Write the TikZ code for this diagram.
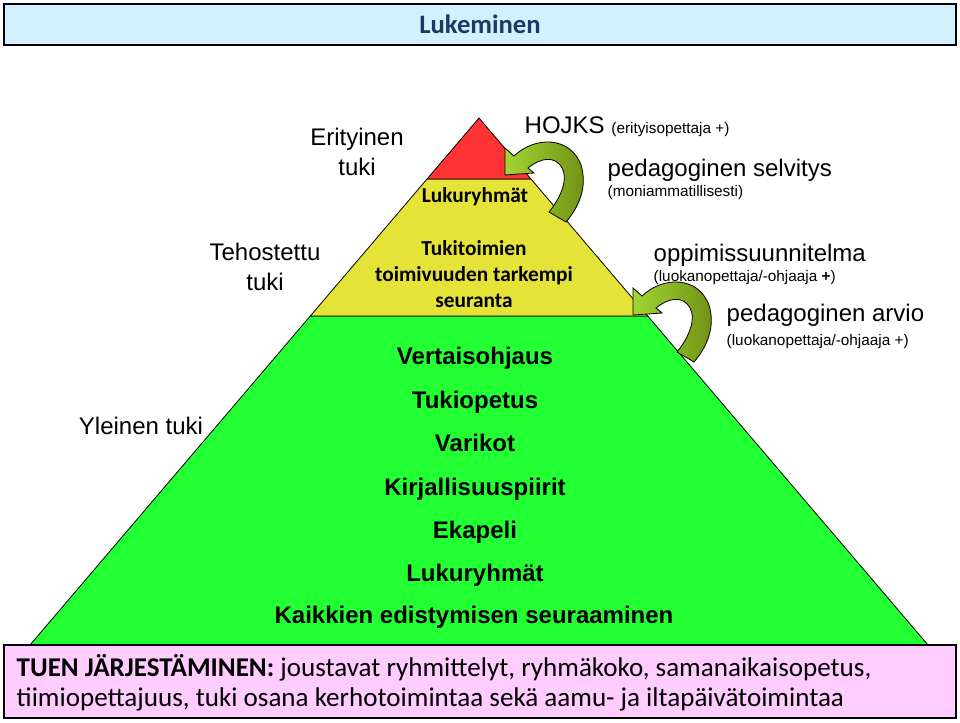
\documentclass[tikz,border=0pt]{standalone}
\usepackage{fontspec}
\setmainfont{Liberation Sans}
\newfontfamily\calibri{Carlito}
\usetikzlibrary{calc}

\definecolor{titlefill}{HTML}{D3F1FC}
\definecolor{titleink}{HTML}{1F3864}
\definecolor{pinkfill}{HTML}{FFCCFF}
\definecolor{redtop}{HTML}{FF3333}
\definecolor{yellowmid}{HTML}{E5E238}
\definecolor{greenbase}{HTML}{22FF33}
\definecolor{arrowlight}{HTML}{A2D633}
\definecolor{arrowdark}{HTML}{6E8E14}

\tikzstyle{side}=[align=center,font=\fontsize{18}{22}\selectfont]
\tikzstyle{plan}=[anchor=base west,font=\fontsize{18}{22}\selectfont]
\tikzstyle{who}=[anchor=base west,font=\fontsize{11.5}{14}\selectfont]
\tikzstyle{measure}=[anchor=base,font=\bfseries\fontsize{18}{22}\selectfont]
\tikzstyle{layertext}=[align=center,font=\calibri\bfseries\fontsize{16}{19.5}\selectfont]
\tikzstyle{banner}=[draw=black,line width=2pt,inner sep=0pt]
\tikzstyle{orgline}=[anchor=base west,font=\calibri\fontsize{20.3}{24}\selectfont]

% curved block arrow, origin = upper barb of the head
\tikzset{turnarrow/.pic={
  \shadedraw[left color=arrowlight,right color=arrowdark,draw=black,line width=0.6pt]
    (0,0) -- (0,27) -- (29,25) -- (23,20)
    .. controls (35,10) and (50,7) .. (57,20)
    .. controls (63,30) and (57,48) .. (44,64)
    -- (61,74)
    .. controls (73,60) and (83,40) .. (76,17)
    .. controls (65,-12) and (30,-12) .. (9,8)
    -- cycle;
}}

\begin{document}
\begin{tikzpicture}[x=0.75pt,y=-0.75pt]
\useasboundingbox (0,0) rectangle (960,722);

% pyramid
\coordinate (apex) at (479,118);
\coordinate (bl) at (30,645);
\coordinate (br) at (928,645);
\coordinate (l1) at ($(apex)!0.1157!(bl)$);
\coordinate (r1) at ($(apex)!0.1157!(br)$);
\coordinate (l2) at ($(apex)!0.3757!(bl)$);
\coordinate (r2) at ($(apex)!0.3757!(br)$);
\filldraw[fill=greenbase,line width=0.6pt] (l2) -- (r2) -- (br) -- (bl) -- cycle;
\filldraw[fill=yellowmid,line width=0.6pt] (l1) -- (r1) -- (r2) -- (l2) -- cycle;
\filldraw[fill=redtop,line width=0.6pt] (apex) -- (r1) -- (l1) -- cycle;

\pic at (505,148) {turnarrow};
\pic at (633,288) {turnarrow};

% title and bottom box
\node[banner,fill=titlefill,minimum width=714pt,minimum height=30.75pt,
  text=titleink,font=\calibri\bfseries\fontsize{20}{24}\selectfont] (title) at (480,24.5) {Lukeminen};
\node[banner,fill=pinkfill,minimum width=714pt,minimum height=54.75pt] (org) at (480,681.5) {};
\node[orgline] (org1) at (12,676) {\textbf{TUEN JÄRJESTÄMINEN:} joustavat ryhmittelyt, ryhmäkoko, samanaikaisopetus,};
\node[orgline] (org2) at (12,706) {tiimiopettajuus, tuki osana kerhotoimintaa sekä aamu- ja iltapäivätoimintaa};

% levels of support
\node[side] (erityinen) at (357,152) {Erityinen\\tuki};
\node[side] (tehostettu) at (265,267) {Tehostettu\\tuki};
\node[side] (yleinen) at (141,426) {Yleinen tuki};

% top layer
\node[layertext] (ryhmat) at (475,197) {Lukuryhmät};
\node[plan] (hojks) at (520,133) {HOJKS {\fontsize{11.5}{14}\selectfont (erityisopettaja +)}};
\node[plan] (selvitys) at (603,176) {pedagoginen selvitys};
\node[who] (selvityswho) at (603,196) {(moniammatillisesti)};

% middle layer
\node[layertext] (seuranta) at (474,274) {Tukitoimien\\toimivuuden tarkempi\\seuranta};
\node[plan] (suunnitelma) at (649,261) {oppimissuunnitelma};
\node[who] (suunnitelmawho) at (649,281) {(luokanopettaja/-ohjaaja \textbf{+})};
\node[plan] (arvio) at (722,321) {pedagoginen arvio};
\node[who] (arviowho) at (722,345) {(luokanopettaja/-ohjaaja +)};

% base layer
\node[measure] (m1) at (475,364) {Vertaisohjaus};
\node[measure] (m2) at (475,408) {Tukiopetus};
\node[measure] (m3) at (475,451) {Varikot};
\node[measure] (m4) at (475,495) {Kirjallisuuspiirit};
\node[measure] (m5) at (475,538) {Ekapeli};
\node[measure] (m6) at (475,581) {Lukuryhmät};
\node[measure] (m7) at (474,623) {Kaikkien edistymisen seuraaminen};
\end{tikzpicture}
\end{document}
